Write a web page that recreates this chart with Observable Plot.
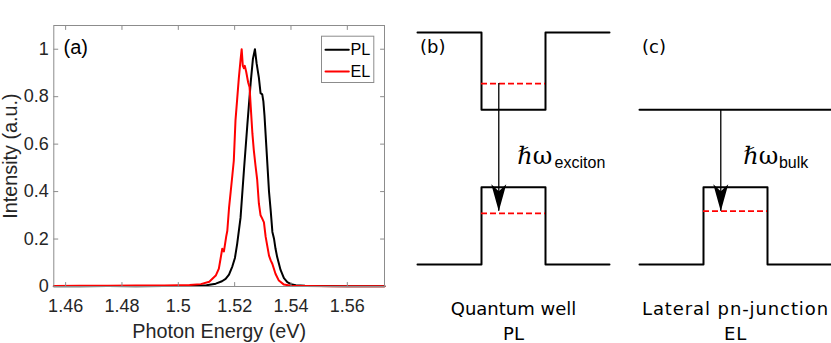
<!DOCTYPE html>
<html><head><meta charset="utf-8">
<script src="https://cdn.jsdelivr.net/npm/d3@7"></script>
<script src="https://cdn.jsdelivr.net/npm/@observablehq/plot@0.6"></script>
<style>
body{margin:0;background:#fff;}
#wrap{position:relative;width:831px;height:343px;overflow:hidden;background:#fff;}
#wrap svg{position:absolute;top:0;}
</style></head><body><div id="wrap"></div>
<script>
// ---------- Panel (a) data ----------
const plEnergy = [1.4558,1.465,1.475,1.485,1.495,1.502,1.507,1.510,1.5133,1.5155,1.5168,1.5180,1.5192,1.5201,1.5209,1.5221,1.5233,1.5245,1.5257,1.5265,1.5272,1.5278,1.5286,1.5292,1.5298,1.5302,1.5306,1.5310,1.5316,1.5322,1.5328,1.5334,1.5340,1.5345,1.5351,1.5363,1.5375,1.5387,1.5400,1.5417,1.5450,1.5500,1.5600,1.5732];
const plIntensity = [0.001,0.001,0.002,0.001,0.002,0.002,0.003,0.005,0.012,0.022,0.032,0.05,0.085,0.12,0.18,0.29,0.49,0.68,0.86,0.96,1.0,0.94,0.88,0.815,0.81,0.78,0.72,0.64,0.52,0.40,0.32,0.23,0.20,0.16,0.124,0.07,0.035,0.018,0.01,0.005,0.003,0.002,0.001,0.001];
const elEnergy = [1.4558,1.465,1.475,1.485,1.495,1.500,1.504,1.508,1.511,1.5133,1.5144,1.5150,1.5156,1.5162,1.5170,1.5174,1.5180,1.5186,1.5192,1.5197,1.5203,1.5209,1.5215,1.5221,1.5225,1.5229,1.5233,1.5236,1.5241,1.5248,1.5253,1.5257,1.5263,1.5268,1.5274,1.5280,1.5286,1.5292,1.5298,1.5304,1.5310,1.5316,1.5322,1.5328,1.5334,1.5345,1.5357,1.5375,1.5400,1.5450,1.5550,1.5732];
const elIntensity = [0.002,0.003,0.003,0.004,0.004,0.005,0.006,0.01,0.02,0.046,0.075,0.117,0.159,0.148,0.21,0.235,0.33,0.40,0.47,0.53,0.70,0.79,0.88,0.955,1.0,0.93,0.92,0.93,0.905,0.86,0.84,0.76,0.645,0.575,0.51,0.45,0.35,0.30,0.286,0.27,0.21,0.17,0.13,0.11,0.095,0.054,0.025,0.008,0.003,0.002,0.001,0.001];
const seriesNames = ["PL", "EL"];
const seriesColors = ["#000000", "#ff0000"];
const xTicks = [1.46, 1.48, 1.5, 1.52, 1.54, 1.56];
const yTicks = [0, 0.2, 0.4, 0.6, 0.8, 1];
const xDomain = [1.4558, 1.5732];
const yDomain = [0, 1.1];
const xLabel = "Photon Energy (eV)";
const yLabel = "Intensity (a.u.)";
const panelA = "(a)";

// ---------- Panels (b),(c) data (schematic energies) ----------
const panels = ["b", "c"];
const panelTags = ["(b)", "(c)"];
const layerX = [0, 1, 2, 3];                 // structure boundaries
const cbB = [3, 3, 2, 2, 3, 3];             // conduction band, quantum well
const cbC = [2, 2];                          // conduction band, bulk
const vb = [0, 0, 1, 1, 0, 0];               // valence band (both)
const levelB = [2.34, 0.66];                 // confined levels in (b)
const levelC = [0.69];                       // level in (c)
const arrowX = 1.27;
const arrowFrom = [2.34, 2];
const arrowTo = [0.69, 0.69];
const emitSymbol = ["ℏω", "ℏω"];
const emitSub = ["exciton", "bulk"];
const captions = ["Quantum well\nPL", "Lateral pn-junction\nEL"];

const wrap = document.getElementById("wrap");
const gray = "#8c8c8c", ink = "#262626";
const lineShape = {draw(ctx, l) { ctx.moveTo(0, 0); ctx.lineTo(0, -l); }};

// ---------- Plot (a) ----------
const plData = plEnergy.map((e, i) => ({e, v: plIntensity[i]}));
const elData = elEnergy.map((e, i) => ({e, v: elIntensity[i]}));
const tickOpts = {shape: lineShape, length: 4, anchor: "start", stroke: gray, strokeWidth: 1};
const legendMarks = seriesNames.flatMap((s, i) => [
  Plot.vector([s], {frameAnchor: "top-right", dx: -59, dy: 24.3 + i * 21.7, rotate: 90, length: 23.3, anchor: "start", shape: lineShape, stroke: seriesColors[i], strokeWidth: 2}),
  Plot.text([s], {text: d => d, frameAnchor: "top-right", dx: -34, dy: 24.3 + i * 21.7, textAnchor: "start", lineAnchor: "middle", fontSize: 16.2, fill: "#000"})
]);
const chartA = Plot.plot({
  width: 400, height: 343,
  marginLeft: 53.3, marginRight: 16, marginTop: 25, marginBottom: 57,
  style: {fontFamily: "'Liberation Sans', Arial, sans-serif", fontSize: "18px", background: "transparent"},
  x: {domain: xDomain},
  y: {domain: yDomain},
  marks: [
    Plot.line(plData, {x: "e", y: "v", stroke: seriesColors[0], strokeWidth: 2}),
    Plot.line(elData, {x: "e", y: "v", stroke: seriesColors[1], strokeWidth: 2}),
    Plot.vector(xTicks, {x: d => d, y: yDomain[0], rotate: 0, ...tickOpts}),
    Plot.vector(xTicks, {x: d => d, y: yDomain[1], rotate: 180, ...tickOpts}),
    Plot.vector(yTicks, {y: d => d, x: xDomain[0], rotate: 90, ...tickOpts}),
    Plot.vector(yTicks, {y: d => d, x: xDomain[1], rotate: -90, ...tickOpts}),
    Plot.frame({stroke: gray, strokeWidth: 1}),
    Plot.axisX({ticks: xTicks, tickSize: 0, tickPadding: 13, tickFormat: d => String(d), fontSize: 18, fill: ink, label: null}),
    Plot.axisY({ticks: yTicks, tickSize: 0, tickPadding: 5, tickFormat: d => String(d), fontSize: 18, fill: ink, label: null}),
    Plot.text([xLabel], {text: d => d, frameAnchor: "bottom", dy: 51, textAnchor: "middle", lineAnchor: "bottom", fontSize: 19.8, fill: ink}),
    Plot.text([yLabel], {text: d => d, frameAnchor: "left", dx: -43, rotate: -90, textAnchor: "middle", lineAnchor: "middle", fontSize: 19.8, fill: ink}),
    Plot.text([panelA], {text: d => d, frameAnchor: "top-left", dx: 9.7, dy: 22, textAnchor: "start", lineAnchor: "middle", fontSize: 20, fill: "#000"}),
    Plot.frame({insetLeft: 267.7, insetRight: 10.7, insetTop: 10.7, insetBottom: 204, stroke: gray, fill: "white"}),
    ...legendMarks
  ]
});
chartA.style.left = "0px";
wrap.appendChild(chartA);

// ---------- Plot (b),(c) ----------
const bandRows = [];
const stepX = [0, 1, 1, 2, 2, 3];
cbB.forEach((E, i) => bandRows.push({panel: "b", band: "cb", x: stepX[i], E}));
cbC.forEach((E, i) => bandRows.push({panel: "c", band: "cb", x: [layerX[0], layerX[3]][i], E}));
panels.forEach(p => vb.forEach((E, i) => bandRows.push({panel: p, band: "vb", x: stepX[i], E})));
const levelRows = [
  ...levelB.map(E => ({panel: "b", E})),
  ...levelC.map(E => ({panel: "c", E}))
];
const arrowRows = panels.map((p, i) => ({panel: p, x: arrowX, y1: arrowFrom[i], y2: arrowTo[i]}));
const labelRows = panels.map((p, i) => ({panel: p, tag: panelTags[i], sym: emitSymbol[i], sub: emitSub[i], cap: captions[i]}));
const headSymbol = {draw(ctx) { ctx.moveTo(0, 0); ctx.lineTo(7.5, -27); ctx.lineTo(0, -20); ctx.lineTo(-7.5, -27); ctx.closePath(); }};
const symX = {b: 1.56, c: 1.62}, subX = {b: 2.142, c: 2.178};
const diagFont = "'DejaVu Sans', Verdana, sans-serif";

const chartBC = Plot.plot({
  width: 431, height: 343,
  marginLeft: 16.7, marginRight: 0, marginTop: 32, marginBottom: 79,
  style: {fontFamily: diagFont, fontSize: "18px", background: "transparent"},
  fx: {domain: panels, paddingInner: 0.134, paddingOuter: 0, axis: null},
  x: {domain: [0, 3], axis: null},
  y: {domain: [0, 3], axis: null},
  marks: [
    Plot.line(bandRows, {fx: "panel", x: "x", y: "E", z: "band", stroke: "#000", strokeWidth: 2}),
    Plot.ruleY(levelRows, {fx: "panel", y: "E", x1: layerX[1], x2: layerX[2], stroke: "#ff0000", strokeWidth: 1.8, strokeDasharray: "6,3"}),
    Plot.ruleX(arrowRows, {fx: "panel", x: "x", y1: "y1", y2: "y2", stroke: "#000", strokeWidth: 1.3}),
    Plot.dot(arrowRows, {fx: "panel", x: "x", y: "y2", symbol: headSymbol, r: 1, fill: "#000", stroke: "none"}),
    Plot.text(labelRows, {fx: "panel", text: "tag", frameAnchor: "top-left", dx: 2.6, dy: 15, textAnchor: "start", lineAnchor: "middle", fontSize: 18, fill: "#000"}),
    Plot.text(labelRows, {fx: "panel", text: "sym", x: d => symX[d.panel], y: 1.302, textAnchor: "start", lineAnchor: "bottom", fontSize: 24, fontFamily: "'DejaVu Serif', serif", fill: "#000"}),
    Plot.text(labelRows, {fx: "panel", text: "sub", x: d => subX[d.panel], y: 1.245, textAnchor: "start", lineAnchor: "bottom", fontSize: 16, fontFamily: "'Liberation Sans', Arial, sans-serif", fill: "#000"}),
    Plot.text(labelRows, {fx: "panel", text: "cap", frameAnchor: "bottom", dy: 75, textAnchor: "middle", lineAnchor: "bottom", lineHeight: 1.389, fontSize: 18, fill: "#000"})
  ]
});
chartBC.style.left = "400px";
wrap.appendChild(chartBC);
// slightly wider tracking for the lateral pn-junction caption, as in the reference
d3.select(chartBC).selectAll("text").filter(function() { return this.textContent.includes("Lateral"); })
  .style("letter-spacing", "0.9px");
</script>
</body></html>
